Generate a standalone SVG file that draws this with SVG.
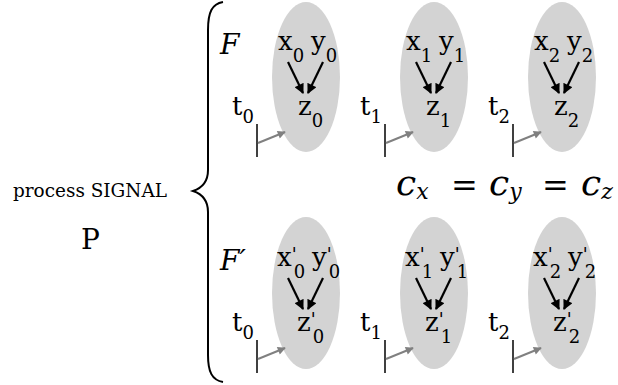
<svg xmlns="http://www.w3.org/2000/svg" width="618" height="385" viewBox="0 0 618 385">
<defs>
<style>
.el{fill:#d3d3d3}
.ar{stroke:#000;stroke-width:2.2;fill:none;marker-end:url(#ah)}
.ga{stroke:#808080;stroke-width:2;fill:none;marker-end:url(#gh)}
.tk{stroke:#000;stroke-width:1.5}
</style>
<marker id="ah" viewBox="0 0 10 10" refX="9" refY="5" markerWidth="5" markerHeight="4.5" orient="auto" markerUnits="strokeWidth"><path d="M0,0 L10,5 L0,10 z" fill="#000"/></marker>
<marker id="gh" viewBox="0 0 10 10" refX="9" refY="5" markerWidth="5" markerHeight="4" orient="auto" markerUnits="strokeWidth"><path d="M0,0 L10,5 L0,10 z" fill="#808080"/></marker>
</defs>
<g font-family="DejaVu Serif, Liberation Serif, serif" fill="#000" font-size="26">
<g id="node-t0">
<ellipse class="el" cx="306" cy="77" rx="34" ry="75"/>
<text x="278" y="50">x<tspan font-size="18" dy="12">0</tspan></text>
<text x="311" y="50">y<tspan font-size="18" dy="12">0</tspan></text>
<text x="298" y="115">z<tspan font-size="18" dy="12">0</tspan></text>
</g>
<g id="node-t1" transform="translate(128,0)">
<ellipse class="el" cx="306" cy="77" rx="34" ry="75"/>
<text x="278" y="50">x<tspan font-size="18" dy="12">1</tspan></text>
<text x="311" y="50">y<tspan font-size="18" dy="12">1</tspan></text>
<text x="298" y="115">z<tspan font-size="18" dy="12">1</tspan></text>
</g>
<g id="node-t2" transform="translate(256,0)">
<ellipse class="el" cx="306" cy="77" rx="34" ry="75"/>
<text x="278" y="50">x<tspan font-size="18" dy="12">2</tspan></text>
<text x="311" y="50">y<tspan font-size="18" dy="12">2</tspan></text>
<text x="298" y="115">z<tspan font-size="18" dy="12">2</tspan></text>
</g>
<g id="node-b0">
<ellipse class="el" cx="306" cy="293" rx="34" ry="76"/>
<text x="277" y="266">x<tspan font-size="18" dy="-5">'</tspan><tspan font-size="18" dx="-3" dy="17">0</tspan></text>
<text x="312" y="266">y<tspan font-size="18" dy="-5">'</tspan><tspan font-size="18" dx="-3" dy="17">0</tspan></text>
<text x="297" y="331">z<tspan font-size="18" dy="-5">'</tspan><tspan font-size="18" dx="-3" dy="17">0</tspan></text>
</g>
<g id="node-b1" transform="translate(128,0)">
<ellipse class="el" cx="306" cy="293" rx="34" ry="76"/>
<text x="277" y="266">x<tspan font-size="18" dy="-5">'</tspan><tspan font-size="18" dx="-3" dy="17">1</tspan></text>
<text x="312" y="266">y<tspan font-size="18" dy="-5">'</tspan><tspan font-size="18" dx="-3" dy="17">1</tspan></text>
<text x="297" y="331">z<tspan font-size="18" dy="-5">'</tspan><tspan font-size="18" dx="-3" dy="17">1</tspan></text>
</g>
<g id="node-b2" transform="translate(256,0)">
<ellipse class="el" cx="306" cy="293" rx="34" ry="76"/>
<text x="277" y="266">x<tspan font-size="18" dy="-5">'</tspan><tspan font-size="18" dx="-3" dy="17">2</tspan></text>
<text x="312" y="266">y<tspan font-size="18" dy="-5">'</tspan><tspan font-size="18" dx="-3" dy="17">2</tspan></text>
<text x="297" y="331">z<tspan font-size="18" dy="-5">'</tspan><tspan font-size="18" dx="-3" dy="17">2</tspan></text>
</g>
<g id="labels">
<text x="13" y="197" font-size="18" textLength="154" lengthAdjust="spacingAndGlyphs">process SIGNAL</text>
<text x="81" y="249" font-size="28">P</text>
<text font-style="italic" x="220" y="54" font-size="28">F</text>
<text font-style="italic" x="220" y="270" font-size="28">F′</text>
<text x="232" y="115">t<tspan font-size="18" dy="8">0</tspan></text>
<text x="360" y="115">t<tspan font-size="18" dy="8">1</tspan></text>
<text x="488" y="115">t<tspan font-size="18" dy="8">2</tspan></text>
<text x="232" y="331">t<tspan font-size="18" dy="8">0</tspan></text>
<text x="360" y="331">t<tspan font-size="18" dy="8">1</tspan></text>
<text x="488" y="331">t<tspan font-size="18" dy="8">2</tspan></text>
<text font-style="italic" x="396" y="195" font-size="36">c<tspan font-size="22" dy="4">x</tspan></text>
<text x="451" y="196" font-size="32">=</text>
<text font-style="italic" x="489" y="195" font-size="36">c<tspan font-size="22" dy="4">y</tspan></text>
<text x="542" y="196" font-size="32">=</text>
<text font-style="italic" x="581" y="195" font-size="36">c<tspan font-size="22" dy="4">z</tspan></text>
</g>
</g>
<g id="connectors">
<path d="M223,2 C212,4 208,12 208,30 L208,170 C208,182 202,188 193,191 C202,194 208,200 208,212 L208,355 C208,372 212,380 223,382" fill="none" stroke="#000" stroke-width="2"/>
<g id="arrows-top">
<path class="ar" d="M288,62 L303,93"/><path class="ar" d="M323,62 L308,93"/>
<path class="ar" d="M416,62 L431,93"/><path class="ar" d="M451,62 L436,93"/>
<path class="ar" d="M544,62 L559,93"/><path class="ar" d="M579,62 L564,93"/>
</g>
<g id="arrows-bottom">
<path class="ar" d="M288,278 L303,309"/><path class="ar" d="M323,278 L308,309"/>
<path class="ar" d="M416,278 L431,309"/><path class="ar" d="M451,278 L436,309"/>
<path class="ar" d="M544,278 L559,309"/><path class="ar" d="M579,278 L564,309"/>
</g>
<g id="ticks">
<line class="tk" x1="257" y1="124" x2="257" y2="157"/><path class="ga" d="M258,143 L285,132"/>
<line class="tk" x1="385" y1="124" x2="385" y2="157"/><path class="ga" d="M386,143 L413,132"/>
<line class="tk" x1="513" y1="124" x2="513" y2="157"/><path class="ga" d="M514,143 L541,132"/>
<line class="tk" x1="257" y1="340" x2="257" y2="373"/><path class="ga" d="M258,359 L285,348"/>
<line class="tk" x1="385" y1="340" x2="385" y2="373"/><path class="ga" d="M386,359 L413,348"/>
<line class="tk" x1="513" y1="340" x2="513" y2="373"/><path class="ga" d="M514,359 L541,348"/>
</g>
</g>
</svg>
